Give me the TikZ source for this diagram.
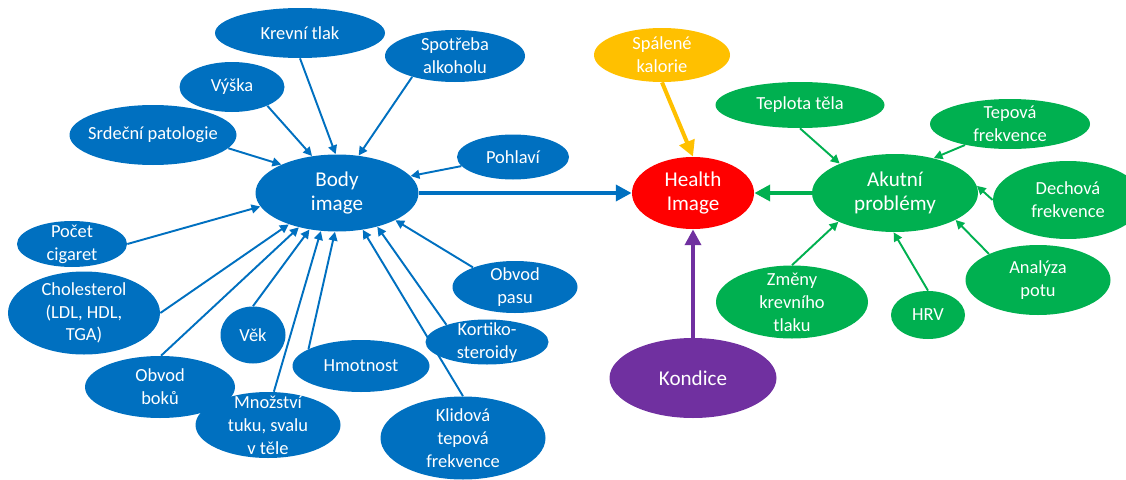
\documentclass[tikz,border=0pt]{standalone}
\usepackage{fontspec}
\setmainfont{Carlito}
\usepackage{tikz}
\usetikzlibrary{arrows.meta,positioning,shapes.geometric}
\definecolor{ofblue}{HTML}{0070C0}
\definecolor{ofgreen}{HTML}{00B050}
\definecolor{ofred}{HTML}{FF0000}
\definecolor{oforange}{HTML}{FFC000}
\definecolor{ofpurple}{HTML}{7030A0}

\begin{document}
\begin{tikzpicture}[x=0.02cm,y=-0.02cm,
		bubble/.style 2 args={ellipse,inner sep=0pt,minimum width=#1*0.02cm,minimum height=#2*0.02cm},
		txt/.style={text=white,align=center,font=\fontsize{10.5}{13}\selectfont},
		bigtxt/.style={text=white,align=center,font=\fontsize{12}{14}\selectfont},
		feed/.style={draw,line width=1.1pt,-{Triangle[length=5pt,width=5pt]}},
		mainfeed/.style={draw,line width=2.3pt,-{Triangle[length=9pt,width=9pt]}}]
		\useasboundingbox (0,0) rectangle (1126,480);
		% body image
		\node (body) at (337,193) [bubble={163}{77},fill=ofblue,label={[bigtxt]center:Body\\image}] {};
		\node (krevni) at (300,33) [bubble={170}{50},fill=ofblue,label={[txt]center:Krevní tlak}] {};
		\node (spotreba) at (455,56) [bubble={140}{52},fill=ofblue,label={[txt]center:Spotřeba\\alkoholu}] {};
		\node (vyska) at (232,87) [bubble={105}{50},fill=ofblue,label={[txt]center:Výška}] {};
		\node (srdce) at (153,135) [bubble={167}{60},fill=ofblue,label={[txt]center:Srdeční patologie}] {};
		\node (pohlavi) at (513,157) [bubble={112}{45},fill=ofblue,label={[txt]center:Pohlaví}] {};
		\node (cigarety) at (72,244) [bubble={110}{46},fill=ofblue,label={[txt]center:Počet\\cigaret}] {};
		\node (chol) at (84,313) [bubble={152}{83},fill=ofblue,label={[txt]center:Cholesterol\\(LDL, HDL,\\TGA)}] {};
		\node (vek) at (253,335) [bubble={65}{57},fill=ofblue,label={[txt]center:Věk}] {};
		\node (boky) at (160,387) [bubble={150}{62},fill=ofblue,label={[txt]center:Obvod\\boků}] {};
		\node (tuk) at (268,425) [bubble={145}{66},fill=ofblue,label={[txt]center:Množství\\tuku, svalu\\v těle}] {};
		\node (hmotnost) at (361,366) [bubble={137}{52},fill=ofblue,label={[txt]center:Hmotnost}] {};
		\node (pas) at (515,287) [bubble={125}{52},fill=ofblue,label={[txt]center:Obvod\\pasu}] {};
		\node (kortiko) at (487,342) [bubble={123}{45},fill=ofblue,label={[txt]center:Kortiko-\\steroidy}] {};
		\node (klid) at (463,438) [bubble={165}{83},fill=ofblue,label={[txt]center:Klidová\\tepová\\frekvence}] {};
		\path [feed,ofblue] (krevni.270) -- (body.92);
		\path [feed,ofblue] (spotreba.206) -- (body.60);
		\path [feed,ofblue] (vyska.332) -- (body.124);
		\path [feed,ofblue] (srdce.350) -- (body.153);
		\path [feed,ofblue] (pohlavi.190) -- (body.13);
		\path [feed,ofblue] (cigarety.0) -- (body.190);
		\path [feed,ofblue] (chol.0) -- (body.213);
		\path [feed,ofblue] (boky.88) -- (body.222);
		\path [feed,ofblue] (vek.90) -- (body.233);
		\path [feed,ofblue] (tuk.80) -- (body.247);
		\path [feed,ofblue] (hmotnost.162) -- (body.267);
		\path [feed,ofblue] (klid.90) -- (body.305);
		\path [feed,ofblue] (kortiko.157) -- (body.320);
		\path [feed,ofblue] (pas.155) -- (body.335);
		% health image
		\node (health) at (693,193) [bubble={122}{72},fill=ofred,label={[bigtxt]center:Health\\Image}] {};
		\node (kalorie) at (662,55) [bubble={136}{54},fill=oforange,label={[txt]center:Spálené\\kalorie}] {};
		\node (kondice) at (693,378) [bubble={167}{80},fill=ofpurple,label={[bigtxt]center:Kondice}] {};
		% akutni problemy
		\node (akutni) at (895,193) [bubble={166}{78},fill=ofgreen,label={[bigtxt]center:Akutní\\problémy}] {};
		\node (teplota) at (800,105) [bubble={169}{46},fill=ofgreen,label={[txt]center:Teplota těla}] {};
		\node (tep) at (1010,124) [bubble={160}{50},fill=ofgreen,label={[txt]center:Tepová\\frekvence}] {};
		\node (dech) at (1068,200) [bubble={150}{78},fill=ofgreen,label={[txt]center:Dechová\\frekvence}] {};
		\node (pot) at (1038,280) [bubble={145}{70},fill=ofgreen,label={[txt]center:Analýza\\potu}] {};
		\node (hrv) at (928,315) [bubble={74}{48},fill=ofgreen,label={[txt]center:HRV}] {};
		\node (zmeny) at (792,302) [bubble={152}{73},fill=ofgreen,label={[txt]center:Změny\\krevního\\tlaku}] {};
		\path [feed,ofgreen] (teplota.270) -- (akutni.152);
		\path [feed,ofgreen] (tep.205) -- (akutni.42);
		\path [feed,ofgreen] (dech.180) -- (akutni.5);
		\path [feed,ofgreen] (pot.152) -- (akutni.336);
		\path [feed,ofgreen] (hrv.90) -- (akutni.268);
		\path [feed,ofgreen] (zmeny.90) -- (akutni.207);
		% main arrows
		\path [mainfeed,ofblue] (body.east) -- (health.west);
		\path [mainfeed,ofgreen] (akutni.west) -- (health.east);
		\path [mainfeed,oforange] (kalorie.south) -- (health.north);
		\path [mainfeed,ofpurple] (kondice.north) -- (health.south);
	\end{tikzpicture}
\end{document}
